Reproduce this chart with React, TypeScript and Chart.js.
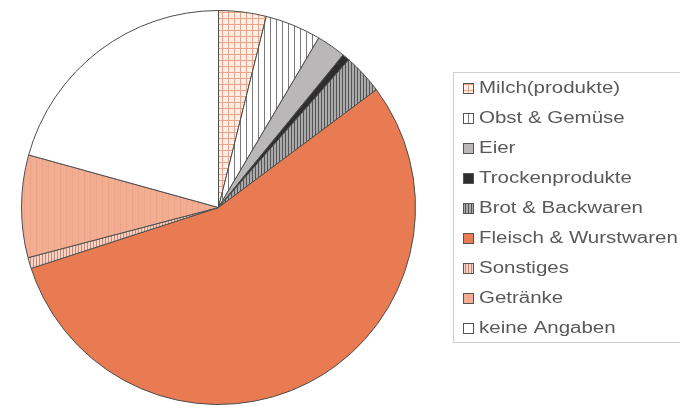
import React, { useEffect, useRef } from "react";
import { Chart, registerables } from "chart.js";

Chart.register(...registerables);

const labels = [
  "Milch(produkte)",
  "Obst & Gemüse",
  "Eier",
  "Trockenprodukte",
  "Brot & Backwaren",
  "Fleisch & Wurstwaren",
  "Sonstiges",
  "Getränke",
  "keine Angaben",
];
const values = [3.9, 4.6, 2.4, 0.6, 3.3, 55.2, 0.9, 8.4, 20.7];

type Pat = { bg: string; line?: string; kind?: "grid" | "vert"; step?: number };
const patternSpecs: Pat[] = [
  { bg: "#fdeee8", line: "#eaa48a", kind: "grid", step: 6 },
  { bg: "#ffffff", line: "#7a7a7a", kind: "vert", step: 6 },
  { bg: "#b9b7b8" },
  { bg: "#2e2e2e" },
  { bg: "#a9a9a9", line: "#555555", kind: "vert", step: 3 },
  { bg: "#e87b52" },
  { bg: "#f8d2c4", line: "#c88a76", kind: "vert", step: 3 },
  { bg: "#f2ae92", line: "#eca386", kind: "vert", step: 6 },
  { bg: "#ffffff" },
];

function makeFill(p: Pat): string | CanvasPattern {
  if (!p.kind) return p.bg;
  const s = p.step || 6;
  const c = document.createElement("canvas");
  c.width = s;
  c.height = s;
  const g = c.getContext("2d")!;
  g.fillStyle = p.bg;
  g.fillRect(0, 0, s, s);
  g.fillStyle = p.line!;
  g.fillRect(0, 0, 1, s);
  if (p.kind === "grid") g.fillRect(0, 0, s, 1);
  const pat = g.createPattern(c, "repeat");
  return pat || p.bg;
}

const legendPlugin = {
  id: "boxLegend",
  afterDraw(chart: any) {
    const ctx: CanvasRenderingContext2D = chart.ctx;
    const ds = chart.data.datasets[0];
    const fills = ds.backgroundColor as any[];
    ctx.save();
    ctx.strokeStyle = "#cfcfcf";
    ctx.lineWidth = 1;
    ctx.strokeRect(453.5, 72.5, 240, 270);
    const x0 = 463;
    const y0 = 88;
    const dy = 30.0;
    chart.data.labels.forEach((lab: string, i: number) => {
      const y = y0 + i * dy;
      ctx.fillStyle = fills[i];
      ctx.fillRect(x0, y - 5, 11, 11);
      ctx.strokeStyle = "#555";
      ctx.lineWidth = 1;
      ctx.strokeRect(x0 + 0.5, y - 4.5, 10, 10);
      ctx.save();
      ctx.translate(479, y);
      ctx.scale(1.28, 1);
      ctx.fillStyle = "#595959";
      ctx.font = "16px 'Liberation Sans', Arial, sans-serif";
      ctx.textBaseline = "middle";
      ctx.textAlign = "left";
      ctx.fillText(lab, 0, 1);
      ctx.restore();
    });
    ctx.restore();
  },
};

export default function App() {
  const ref = useRef<HTMLCanvasElement | null>(null);
  useEffect(() => {
    if (!ref.current) return;
    const fills = patternSpecs.map(makeFill);
    const chart = new Chart(ref.current, {
      type: "pie",
      data: {
        labels,
        datasets: [
          {
            data: values,
            backgroundColor: fills as any,
            borderColor: "#4d4d4d",
            borderWidth: 1,
          },
        ],
      },
      options: {
        animation: false,
        responsive: true,
        maintainAspectRatio: false,
        devicePixelRatio: 1,
        layout: { padding: { left: 20, right: 263, top: 10, bottom: 6 } },
        plugins: {
          legend: { display: false },
          tooltip: { enabled: false },
        },
      },
      plugins: [legendPlugin],
    });
    return () => chart.destroy();
  }, []);
  return (
    <div style={{ position: "absolute", left: 0, top: 0, width: 680, height: 411, background: "#fff" }}>
      <canvas ref={ref} />
    </div>
  );
}
